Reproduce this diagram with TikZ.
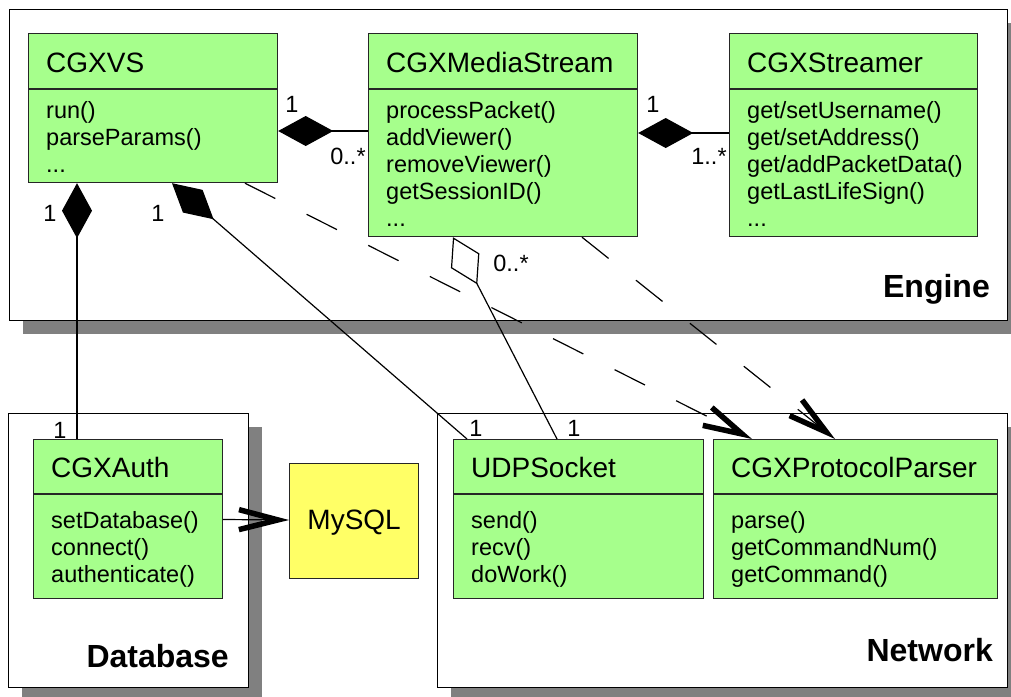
\documentclass[tikz,border=0pt]{standalone}
\usepackage{fontspec}
\setmainfont{Liberation Sans}
\usetikzlibrary{arrows.meta,calc,shadows}

\definecolor{classgreen}{RGB}{166,255,140}
\definecolor{dbyellow}{RGB}{255,255,102}
\definecolor{shadowgray}{RGB}{128,128,128}

\newcommand\clsTitleFont{\fontsize{28}{32}\selectfont}
\newcommand\clsBodyFont{\fontsize{23.5}{27}\selectfont}
\newcommand\pkgNameFont{\fontsize{32}{36}\selectfont\bfseries}

\tikzset{
  pkgbox/.style={draw=black, fill=white, line width=1.2pt, anchor=north west,
    inner sep=0pt,
    drop shadow={shadow xshift=13.5pt, shadow yshift=-13.5pt, fill=shadowgray, opacity=1}},
  clsbox/.style={draw=black!85, fill=classgreen, line width=1.2pt,
    anchor=north west, inner sep=0pt},
  dbbox/.style={draw=black!85, fill=dbyellow, line width=1.2pt,
    anchor=north west, inner sep=0pt},
  clsrule/.style={draw=black!85, line width=1.2pt},
  clstitle/.style={anchor=base west, inner sep=0pt, font=\clsTitleFont},
  clsbody/.style={anchor=base west, inner sep=0pt, font=\clsBodyFont},
  pkgname/.style={anchor=base east, inner sep=0pt, font=\pkgNameFont},
  mult/.style={inner sep=0pt, font=\clsBodyFont},
  assoc/.style={draw=black, line width=1.2pt},
  comp/.style={assoc, {Diamond[length=55pt,width=30pt]}-},
  aggr/.style={assoc, {Diamond[open,length=53pt,width=32pt,fill=white]}-},
  opentip/.tip={Straight Barb[length=39pt,width=20pt,line width=5.5pt]},
  depend/.style={assoc, dash pattern=on 34pt off 35pt, -opentip},
  uses/.style={assoc, -opentip},
}

\begin{document}
\begin{tikzpicture}[x=1pt,y=-1pt]
\useasboundingbox (0,0) rectangle (1011,696);

% packages
\node[pkgbox, minimum width=998pt, minimum height=311pt] (engine) at (9,9) {};
\node[pkgbox, minimum width=240pt, minimum height=274pt] (database) at (8,413) {};
\node[pkgbox, minimum width=570pt, minimum height=274pt] (network) at (437,413) {};

\node[pkgname] (engine-name) at (990,297) {Engine};
\node[pkgname] (database-name) at (229,667) {Database};
\node[pkgname] (network-name) at (993,661) {Network};

% classes of the engine
\node[clsbox, minimum width=249pt, minimum height=149pt] (vs) at (28,33) {};
\draw[clsrule] ($(vs.north west)+(0,56)$) -- ($(vs.north east)+(0,56)$);
\node[clstitle] (vs-title) at ($(vs.north west)+(18,39)$) {CGXVS};
\node[clsbody] (vs-ops) at ($(vs.north west)+(18,85.5)$)
  {\begin{tabular}[t]{@{}l@{}}run()\\parseParams()\\...\end{tabular}};

\node[clsbox, minimum width=269pt, minimum height=203pt] (ms) at (368,33) {};
\draw[clsrule] ($(ms.north west)+(0,56)$) -- ($(ms.north east)+(0,56)$);
\node[clstitle] (ms-title) at ($(ms.north west)+(18,39)$) {CGXMediaStream};
\node[clsbody] (ms-ops) at ($(ms.north west)+(18,85.5)$)
  {\begin{tabular}[t]{@{}l@{}}processPacket()\\addViewer()\\removeViewer()\\getSessionID()\\...\end{tabular}};

\node[clsbox, minimum width=248pt, minimum height=203pt] (st) at (729,33) {};
\draw[clsrule] ($(st.north west)+(0,56)$) -- ($(st.north east)+(0,56)$);
\node[clstitle] (st-title) at ($(st.north west)+(18,39)$) {CGXStreamer};
\node[clsbody] (st-ops) at ($(st.north west)+(18,85.5)$)
  {\begin{tabular}[t]{@{}l@{}}get/setUsername()\\get/setAddress()\\get/addPacketData()\\getLastLifeSign()\\...\end{tabular}};

% database side
\node[clsbox, minimum width=189pt, minimum height=159pt] (auth) at (33,439) {};
\draw[clsrule] ($(auth.north west)+(0,55)$) -- ($(auth.north east)+(0,55)$);
\node[clstitle] (auth-title) at ($(auth.north west)+(18,38.5)$) {CGXAuth};
\node[clsbody] (auth-ops) at ($(auth.north west)+(18,89.5)$)
  {\begin{tabular}[t]{@{}l@{}}setDatabase()\\connect()\\authenticate()\end{tabular}};

\node[dbbox, minimum width=129pt, minimum height=115pt] (sql) at (289,463) {};
\node[inner sep=0pt, font=\clsTitleFont] (sql-name) at ($(sql.center)+(0,2)$) {MySQL};

% network classes
\node[clsbox, minimum width=250pt, minimum height=159pt] (udp) at (453,439) {};
\draw[clsrule] ($(udp.north west)+(0,55)$) -- ($(udp.north east)+(0,55)$);
\node[clstitle] (udp-title) at ($(udp.north west)+(18,38.5)$) {UDPSocket};
\node[clsbody] (udp-ops) at ($(udp.north west)+(18,89.5)$)
  {\begin{tabular}[t]{@{}l@{}}send()\\recv()\\doWork()\end{tabular}};

\node[clsbox, minimum width=284pt, minimum height=159pt] (pp) at (713,439) {};
\draw[clsrule] ($(pp.north west)+(0,55)$) -- ($(pp.north east)+(0,55)$);
\node[clstitle] (pp-title) at ($(pp.north west)+(18,38.5)$) {CGXProtocolParser};
\node[clsbody] (pp-ops) at ($(pp.north west)+(18,89.5)$)
  {\begin{tabular}[t]{@{}l@{}}parse()\\getCommandNum()\\getCommand()\end{tabular}};

% compositions and aggregation
\draw[comp] ($(vs.north east)+(0,98)$) -- ($(ms.north west)+(0,98)$);
\node[mult] (m-vs-ms-a) at (292,104) {1};
\node[mult] (m-vs-ms-b) at (348,156) {0..*};

\draw[comp] ($(ms.north east)+(0,100)$) -- ($(st.north west)+(0,100)$);
\node[mult] (m-ms-st-a) at (653,104) {1};
\node[mult] (m-ms-st-b) at (709,156) {1..*};

\draw[comp] ($(vs.south west)+(49,0)$) -- ($(auth.north west)+(44,0)$);
\node[mult] (m-vs-auth-a) at (50,213) {1};
\node[mult] (m-vs-auth-b) at (60,430) {1};

\draw[comp] ($(vs.south west)+(144,0)$) -- ($(udp.north west)+(14,0)$);
\node[mult] (m-vs-udp-a) at (158,213) {1};
\node[mult] (m-vs-udp-b) at (476,428) {1};

\draw[aggr] ($(ms.south west)+(85,0)$) -- ($(udp.north west)+(104,0)$);
\node[mult] (m-ms-udp-a) at (511,263) {0..*};
\node[mult] (m-ms-udp-b) at (574,428) {1};

% dependencies
\draw[depend] ($(vs.south west)+(217,0)$) -- ($(pp.north west)+(39,0)$);
\draw[depend] ($(ms.south west)+(214,0)$) -- ($(pp.north west)+(122,0)$);
\draw[uses] ($(auth.north east)+(0,80.5)$) -- ($(sql.north west)+(0,57)$);
\end{tikzpicture}
\end{document}
